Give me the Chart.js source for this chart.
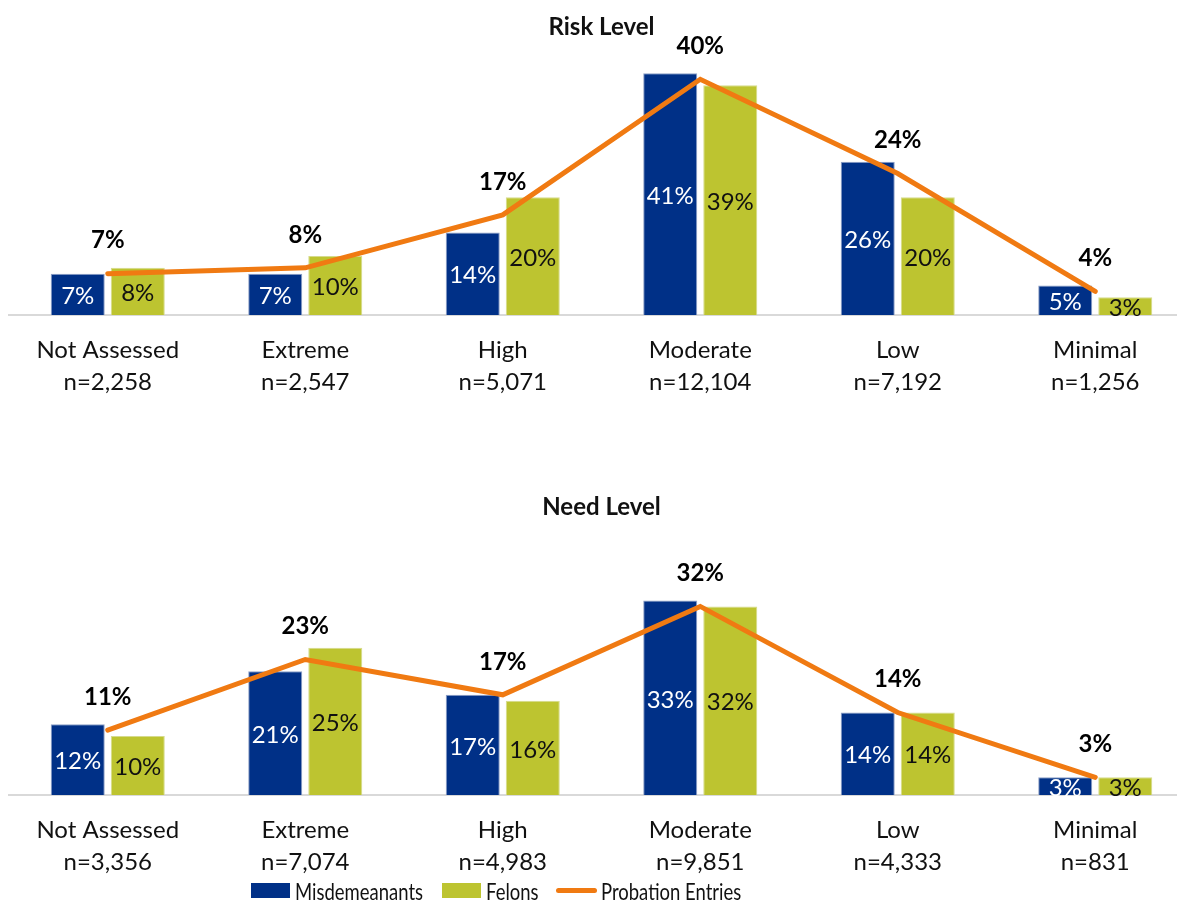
<!DOCTYPE html>
<html>
<head>
<meta charset="utf-8">
<title>Risk and Need Level</title>
<script src="https://cdn.jsdelivr.net/npm/chart.js@4.4.1/dist/chart.umd.min.js"></script>
<style>
    html, body { margin: 0; padding: 0; background: #fff; width: 1177px; height: 901px; overflow: hidden; }
    .panel { position: absolute; left: 0; width: 1200px; height: 417px; }
    #riskBox { top: 0; }
    #needBox { top: 480px; }
    #legend { position: absolute; left: 0; top: 876px; width: 1177px; height: 28px; font-family: Lato, sans-serif; font-size: 24px; color: #111; white-space: nowrap; }
    #legend .item { position: absolute; top: 0; height: 28px; display: flex; align-items: center; }
    #legend .sw { width: 39px; height: 15px; margin-right: 5px; flex: none; }
    #legend .ln { width: 41px; height: 5px; border-radius: 3px; margin-right: 4px; flex: none; }
    #legend .tx { display: inline-block; transform: scaleX(0.77); transform-origin: left center; }
</style>
</head>
<body>
<div class="panel" id="riskBox"><canvas id="riskChart"></canvas></div>
<div class="panel" id="needBox"><canvas id="needChart"></canvas></div>
<div id="legend"></div>
<script>
// --- data ---
var levels = ['Not Assessed', 'Extreme', 'High', 'Moderate', 'Low', 'Minimal'];

var riskCounts = ['n=2,258', 'n=2,547', 'n=5,071', 'n=12,104', 'n=7,192', 'n=1,256'];
var riskMisd = [7, 7, 14, 41, 26, 5];
var riskFelons = [8, 10, 20, 39, 20, 3];
var riskEntries = [7, 8, 17, 40, 24, 4];

var needCounts = ['n=3,356', 'n=7,074', 'n=4,983', 'n=9,851', 'n=4,333', 'n=831'];
var needMisd = [12, 21, 17, 33, 14, 3];
var needFelons = [10, 25, 16, 32, 14, 3];
var needEntries = [11, 23, 17, 32, 14, 3];

var seriesNames = ['Misdemeanants', 'Felons', 'Probation Entries'];

var BLUE = '#003087';
var GREEN = '#BDC430';
var ORANGE = '#F07A12';
var FONT = 'Lato, sans-serif';

// draws % labels: inside bars, bold above the line points
var valueLabels = {
    id: 'valueLabels',
    afterDatasetsDraw: function (chart) {
        var ctx = chart.ctx;
        ctx.save();
        ctx.textAlign = 'center';
        ctx.textBaseline = 'middle';
        chart.data.datasets.forEach(function (ds, i) {
            var meta = chart.getDatasetMeta(i);
            meta.data.forEach(function (el, j) {
                var txt = ds.data[j] + '%';
                if (ds.type === 'line') {
                    ctx.font = 'bold 24px ' + FONT;
                    ctx.fillStyle = '#000';
                    ctx.fillText(txt, el.x, el.y - 33);
                } else {
                    ctx.font = '24px ' + FONT;
                    ctx.fillStyle = ds.labelColor;
                    ctx.fillText(txt, el.x, (el.y + el.base) / 2 + 2);
                }
            });
        });
        ctx.restore();
    }
};

function makeChart(id, title, counts, misd, felons, entries) {
    var labels = levels.map(function (l, i) { return [l, counts[i]]; });
    return new Chart(document.getElementById(id).getContext('2d'), {
        data: {
            labels: labels,
            datasets: [{
                type: 'line',
                label: seriesNames[2],
                data: entries,
                borderColor: ORANGE,
                backgroundColor: ORANGE,
                borderWidth: 5,
                borderCapStyle: 'round',
                pointRadius: 0,
                tension: 0,
                order: 0
            }, {
                type: 'bar',
                label: seriesNames[0],
                data: misd,
                backgroundColor: BLUE,
                borderColor: '#8d9fc6',
                borderWidth: { left: 1, right: 1, top: 1, bottom: 0 },
                labelColor: '#fff',
                categoryPercentage: 0.608,
                barPercentage: 0.9,
                order: 1
            }, {
                type: 'bar',
                label: seriesNames[1],
                data: felons,
                backgroundColor: GREEN,
                borderColor: '#d6db8c',
                borderWidth: { left: 1, right: 1, top: 1, bottom: 0 },
                labelColor: '#111',
                categoryPercentage: 0.608,
                barPercentage: 0.9,
                order: 1
            }]
        },
        options: {
            responsive: true,
            maintainAspectRatio: false,
            animation: false,
            layout: { padding: { left: 9, right: 6, top: 0, bottom: 0 } },
            scales: {
                x: {
                    grid: { display: false, drawTicks: false },
                    border: { display: true, color: '#d9d9d9', width: 2 },
                    ticks: { color: '#111', font: { family: FONT, size: 24, lineHeight: 1.333 }, padding: 19, maxRotation: 0, autoSkip: false }
                },
                y: { display: false, min: 0, max: 45 }
            },
            plugins: {
                legend: { display: false },
                tooltip: { enabled: false },
                title: {
                    display: true,
                    text: title,
                    color: '#111',
                    font: { family: FONT, size: 24, weight: 'bold', lineHeight: 1.2 },
                    padding: { top: 13, bottom: 8 }
                }
            }
        },
        plugins: [valueLabels]
    });
}

makeChart('riskChart', 'Risk Level', riskCounts, riskMisd, riskFelons, riskEntries);
makeChart('needChart', 'Need Level', needCounts, needMisd, needFelons, needEntries);

// html legend, placed where the reference has it (left of centre)
var legendItems = [
    { left: 251, cls: 'sw', color: BLUE, name: seriesNames[0] },
    { left: 442, cls: 'sw', color: GREEN, name: seriesNames[1] },
    { left: 556, cls: 'ln', color: ORANGE, name: seriesNames[2] }
];
var legendHtml = '';
legendItems.forEach(function (it) {
    legendHtml += '<span class="item" style="left:' + it.left + 'px">' +
        '<span class="' + it.cls + '" style="background:' + it.color + '"></span>' +
        '<span class="tx">' + it.name + '</span></span>';
});
document.getElementById('legend').innerHTML = legendHtml;
</script>
</body>
</html>
